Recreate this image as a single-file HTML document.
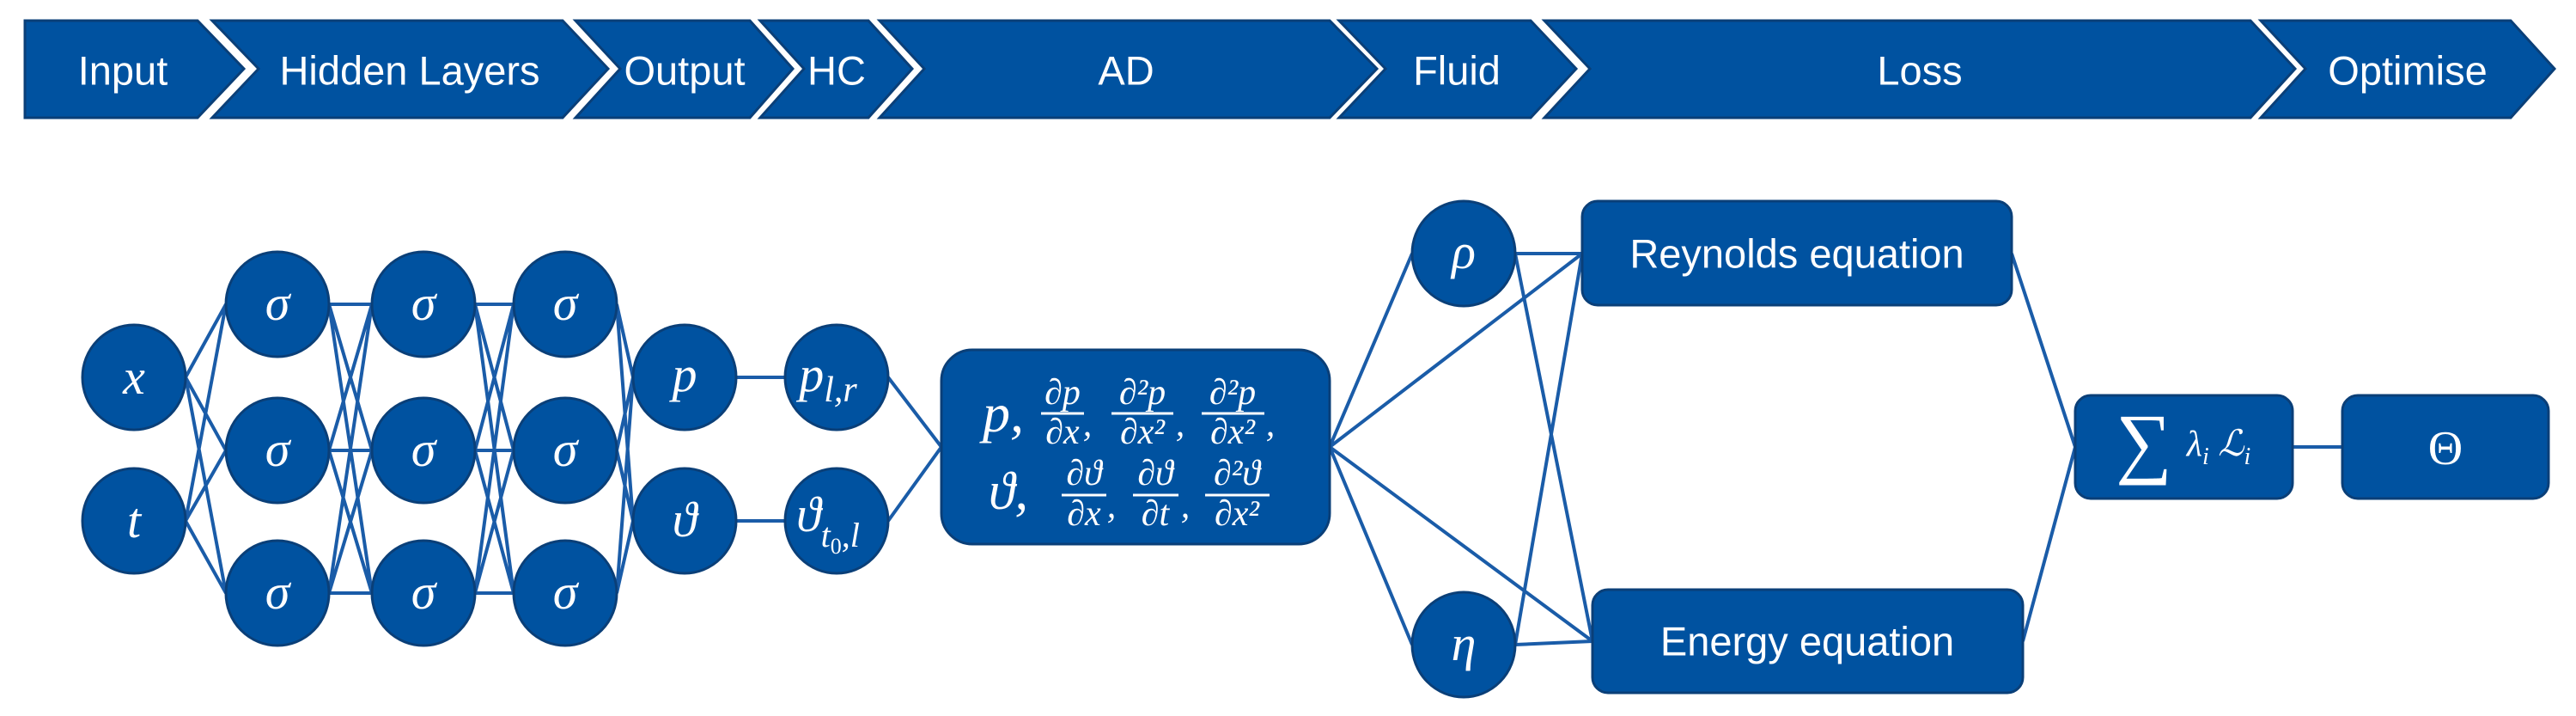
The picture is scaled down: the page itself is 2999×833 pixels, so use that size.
<!DOCTYPE html>
<html><head><meta charset="utf-8"><style>
html,body{margin:0;padding:0;background:#fff;}
svg{display:block}
.b{font-family:"Liberation Sans",sans-serif;font-size:47px;fill:#fff;text-anchor:middle;dominant-baseline:central}
.m{font-family:"Liberation Serif",serif;font-style:italic;fill:#fff;text-anchor:middle}
.n{fill:#0052A0;stroke:#0a3f78;stroke-width:3}
.l{stroke:#1a5ca8;stroke-width:4;fill:none}
</style></head><body>
<svg width="2999" height="833" viewBox="0 0 2999 833" xmlns="http://www.w3.org/2000/svg">
<g fill="#0052A0" stroke="#0a3f78" stroke-width="3">
<polygon points="29,24 230,24 284,80 230,137 29,137"/>
<polygon points="247,24 655,24 708,80 655,137 247,137 301,80"/>
<polygon points="670,24 873,24 923,80 873,137 670,137 722,80"/>
<polygon points="885,24 1011,24 1062,80 1011,137 885,137 936,80"/>
<polygon points="1024,24 1548,24 1603,80 1548,137 1024,137 1076,80"/>
<polygon points="1559,24 1782,24 1835,80 1782,137 1559,137 1613,80"/>
<polygon points="1798,24 2620,24 2672,80 2620,137 1798,137 1851,80"/>
<polygon points="2632,24 2923,24 2974,80 2923,137 2632,137 2684,80"/>
</g>
<text class="b" x="143" y="82">Input</text>
<text class="b" x="477" y="82">Hidden Layers</text>
<text class="b" x="797" y="82">Output</text>
<text class="b" x="974" y="82">HC</text>
<text class="b" x="1311" y="82">AD</text>
<text class="b" x="1696" y="82">Fluid</text>
<text class="b" x="2235" y="82">Loss</text>
<text class="b" x="2803" y="82">Optimise</text>

<g class="l">
<path d="M216,439L263,354M216,439L263,524M216,439L263,690M216,606L263,354M216,606L263,524M216,606L263,690"/>
<path d="M383,354L433,354M383,354L433,524M383,354L433,690M383,524L433,354M383,524L433,524M383,524L433,690M383,690L433,354M383,690L433,524M383,690L433,690"/>
<path d="M553,354L598,354M553,354L598,524M553,354L598,690M553,524L598,354M553,524L598,524M553,524L598,690M553,690L598,354M553,690L598,524M553,690L598,690"/>
<path d="M718,354L737,439M718,354L737,606M718,524L737,439M718,524L737,606M718,690L737,439M718,690L737,606"/>
<path d="M857,439L914,439M857,606L914,606"/>
<path d="M1034,439L1096,520M1034,606L1096,520"/>
<path d="M1548,520L1644,295M1548,520L1644,750M1548,520L1842,295M1548,520L1854,746"/>
<path d="M1764,295L1842,295M1764,295L1854,746M1764,750L1842,295M1764,750L1854,746"/>
<path d="M2342,295L2416,520M2355,746L2416,520M2669,520L2727,520"/>
</g>

<g class="n">
<ellipse cx="156" cy="439" rx="60" ry="61"/><ellipse cx="156" cy="606" rx="60" ry="61"/>
<ellipse cx="323" cy="354" rx="60" ry="61"/><ellipse cx="323" cy="524" rx="60" ry="61"/><ellipse cx="323" cy="690" rx="60" ry="61"/>
<ellipse cx="493" cy="354" rx="60" ry="61"/><ellipse cx="493" cy="524" rx="60" ry="61"/><ellipse cx="493" cy="690" rx="60" ry="61"/>
<ellipse cx="658" cy="354" rx="60" ry="61"/><ellipse cx="658" cy="524" rx="60" ry="61"/><ellipse cx="658" cy="690" rx="60" ry="61"/>
<ellipse cx="797" cy="439" rx="60" ry="61"/><ellipse cx="797" cy="606" rx="60" ry="61"/>
<ellipse cx="974" cy="439" rx="60" ry="61"/><ellipse cx="974" cy="606" rx="60" ry="61"/>
<ellipse cx="1704" cy="295" rx="60" ry="61"/><ellipse cx="1704" cy="750" rx="60" ry="61"/>
<rect x="1096" y="407" width="452" height="226" rx="36"/>
<rect x="1842" y="234" width="500" height="121" rx="18"/>
<rect x="1854" y="686" width="501" height="120" rx="18"/>
<rect x="2416" y="460" width="253" height="120" rx="18"/>
<rect x="2727" y="460" width="240" height="120" rx="18"/>
</g>

<g class="m" font-size="58">
<text x="156" y="458">x</text><text x="156" y="625">t</text>
<text x="323" y="372">σ</text><text x="323" y="542">σ</text><text x="323" y="708">σ</text>
<text x="493" y="372">σ</text><text x="493" y="542">σ</text><text x="493" y="708">σ</text>
<text x="658" y="372">σ</text><text x="658" y="542">σ</text><text x="658" y="708">σ</text>
<text x="797" y="455">p</text><text x="797" y="624">ϑ</text>
<text x="964" y="455">p<tspan font-size="42" dy="12">l,r</tspan></text>
<text x="964" y="618">ϑ<tspan font-size="40" dy="18">t</tspan><tspan font-size="26" dy="8" font-style="normal">0</tspan><tspan font-size="40" dy="-8">,l</tspan></text>
<text x="1704" y="312">ρ</text><text x="1704" y="768">η</text>
</g>

<g class="m">
<text x="1168" y="502" font-size="64">p,</text>
<g font-size="42">
<text x="1237" y="470">∂p</text><text x="1237" y="516">∂x</text><text x="1266" y="507">,</text>
<text x="1330" y="470">∂²p</text><text x="1330" y="516">∂x²</text><text x="1374" y="507">,</text>
<text x="1435" y="470">∂²p</text><text x="1435" y="516">∂x²</text><text x="1479" y="507">,</text>
<text x="1262" y="564">∂ϑ</text><text x="1262" y="611">∂x</text><text x="1294" y="602">,</text>
<text x="1345" y="564">∂ϑ</text><text x="1345" y="611">∂t</text><text x="1380" y="602">,</text>
<text x="1440" y="564">∂²ϑ</text><text x="1440" y="611">∂x²</text>
</g>
<text x="1174" y="592" font-size="62">ϑ,</text>
</g>
<g stroke="#fff" stroke-width="3">
<line x1="1212" y1="481" x2="1262" y2="481"/>
<line x1="1294" y1="481" x2="1366" y2="481"/>
<line x1="1399" y1="481" x2="1472" y2="481"/>
<line x1="1236" y1="576" x2="1288" y2="576"/>
<line x1="1319" y1="576" x2="1372" y2="576"/>
<line x1="1403" y1="576" x2="1478" y2="576"/>
</g>

<text class="b" x="2092" y="295">Reynolds equation</text>
<text class="b" x="2104" y="746">Energy equation</text>
<text x="2496" y="545" font-family="Liberation Serif,serif" font-size="92" fill="#fff" text-anchor="middle">∑</text>
<text x="2583" y="530" class="m" font-size="42">λ<tspan font-size="28" dy="10">i</tspan><tspan dy="-10" font-size="42"> ℒ</tspan><tspan font-size="28" dy="10">i</tspan></text>
<text x="2847" y="540" font-family="Liberation Serif,serif" font-size="56" fill="#fff" text-anchor="middle">Θ</text>
</svg>
</body></html>
